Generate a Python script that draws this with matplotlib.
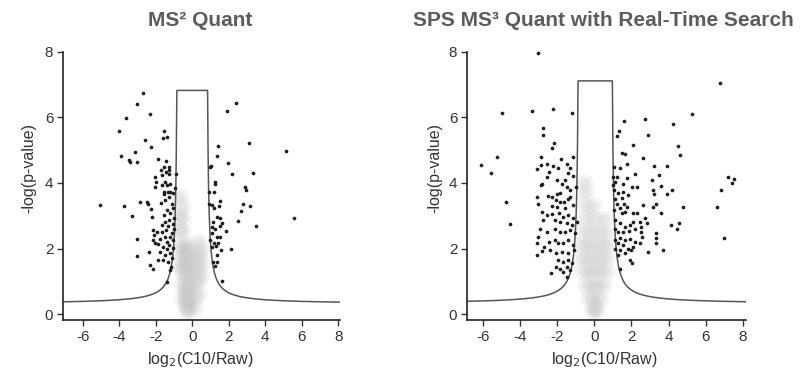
import numpy as np
import matplotlib
matplotlib.use("Agg")
import matplotlib.pyplot as plt

plt.rcParams['font.family'] = ['Liberation Sans', 'DejaVu Sans']

# ---- data (log2 ratio, -log p) ----
ms2_x = [-2.68, -3.04, -2.32, -3.63, -4.0, -1.55, -1.62, -1.40, -2.59, -2.26,
         -3.92, -3.14, -3.45, -3.41, -3.04, -1.89, -1.44, -1.55, -1.28, -1.73,
         -1.44, -1.29, -2.04, -1.68, -1.26, -0.89, -1.99, -1.5, -1.22, -1.37,
         -1.68, -2.04, -0.95, -1.22, -1.55,
         -5.05, -3.72, -2.86, -2.46, -2.41, -3.32, -2.28, -2.22, -1.73, -1.5,
         -1.26, -1.04, -1.31, -1.55, -1.13, -1.04, -1.40, -1.22, -1.55, -1.0,
         -1.26, -1.5, -1.07, -1.68, -1.31, -1.0, -1.44, -1.68, -1.13, -1.22,
         -1.5, -1.77, -1.04, -1.4, -1.86, -2.04, -1.26, -1.07, -1.62, -1.4,
         -1.77, -1.22, -1.5, -1.13, -1.59, -1.86, -1.31, -1.18, -1.22,
         -3.01, -3.01, -2.35, -2.32, -2.17, -2.1, -2.14, -1.4, -2.14, -1.95,
         2.39, 1.92, 3.12, 5.15, 1.44, 1.37, 1.96, 1.02, 0.97, 2.17,
         3.34, 1.24, 1.24, 2.9, 2.94, 0.93, 1.19, 1.52, 0.93, 1.06,
         1.19, 1.48, 2.79, 3.16, 2.67, 1.37, 1.52, 1.15, 1.61, 2.5,
         5.59, 3.49, 1.06, 1.24, 1.52, 1.88, 1.06, 1.34, 1.55, 1.0,
         1.19, 1.42, 1.06, 1.3, 1.57, 2.14, 1.34, 1.15, 1.34, 1.24, 1.64]
ms2_y = [6.75, 6.42, 6.09, 5.97, 5.58, 5.58, 5.36, 5.40, 5.30, 5.09,
         4.83, 4.93, 4.70, 4.63, 4.63, 4.73, 4.66, 4.49, 4.49, 4.39,
         4.34, 4.39, 4.19, 4.24, 4.28, 4.26, 4.03, 4.03, 3.98, 3.93,
         3.93, 3.88, 3.85, 3.73, 3.71,
         3.32, 3.30, 3.41, 3.42, 3.35, 3.0, 3.2, 2.97, 3.39, 3.48,
         3.58, 3.68, 3.73, 3.66, 3.37, 3.22, 3.17, 3.07, 3.02, 2.92,
         2.87, 2.81, 2.76, 2.71, 2.68, 2.61, 2.56, 2.51, 2.48, 2.36,
         2.36, 2.28, 2.26, 2.21, 2.13, 2.16, 2.10, 2.03, 2.05, 1.97,
         1.90, 1.85, 1.80, 1.70, 1.65, 1.65, 1.60, 1.44, 1.34,
         2.29, 1.77, 1.88, 1.49, 1.37, 2.41, 2.26, 0.98, 2.56, 2.51,
         6.44, 6.2, 5.23, 4.98, 5.12, 4.83, 4.61, 4.53, 4.49, 4.26,
         4.31, 4.02, 3.98, 3.88, 3.78, 3.73, 3.73, 3.45, 3.37, 3.32,
         3.25, 3.3, 3.37, 3.31, 3.13, 2.95, 2.92, 2.81, 2.78, 2.84,
         2.94, 2.69, 2.66, 2.58, 2.68, 2.54, 2.46, 2.36, 2.36, 2.26,
         2.17, 2.16, 2.05, 2.09, 1.95, 1.99, 1.8, 1.6, 1.6, 1.46, 1.02]

ms2_bg_x = [-0.35, -0.35, -0.35, -0.35, -0.35, -0.35, -0.35, -0.35, -0.35, -0.35, -0.35, -0.35,
            -0.55, -0.55, -0.55, -0.55, -0.55, -0.55, -0.55, -0.55,
            -0.15, -0.15, -0.15, -0.15, -0.15, -0.15,
            0.1, 0.1, 0.1, 0.1, 0.1,
            0.3, 0.3, 0.3, 0.3, 0.3,
            -0.7, -0.7, -0.7, -0.7, -0.7,
            0.5, 0.5, 0.5]
ms2_bg_y = [0.1, 0.25, 0.4, 0.55, 0.7, 0.9, 1.1, 1.3, 1.5, 1.7, 1.9, 2.1,
            0.5, 0.9, 1.3, 1.7, 2.1, 2.5, 2.9, 3.3,
            0.15, 0.4, 0.8, 1.2, 1.6, 2.0,
            0.2, 0.5, 0.9, 1.3, 1.7,
            0.6, 1.0, 1.4, 1.8, 2.2,
            1.5, 2.0, 2.6, 3.0, 3.6,
            1.2, 1.6, 2.0]

ms3_x = [-3.03, -4.97, -3.35, -2.22, -1.23, -2.79, -2.76, -2.18, -2.27, -5.24,
         -6.14, -5.58, -4.77, -4.56,
         -2.88, -2.9, -2.58, -2.22, -1.95, -1.82, -1.5, -1.32, -1.41, -1.14, -1.17,
         -3.12, -2.44, -2.54, -2.85, -2.9, -2.04, -1.59, -1.5, -1.77, -1.32, -0.99,
         -3.12, -3.03, -2.49, -2.31, -2.04, -1.86, -2.07, -1.86, -1.63, -1.41,
         -1.32, -1.14, -1.59, -2.0, -2.31,
         -2.85, -2.58, -2.31, -1.9, -1.68, -1.41, -1.14, -0.96, -1.23, -1.5,
         -1.86, -2.13, -2.76, -2.94, -2.54, -2.13, -1.86, -1.59, -1.32, -1.05,
         -3.03, -3.12, -2.72, -2.44, -2.13, -1.95, -1.68, -1.41, -1.17, -1.1,
         -1.41, -1.77, -2.07, -2.4, -2.85, -3.12,
         -1.95, -1.68, -1.41, -1.23, -1.5, -1.86, -2.07, -1.68, -1.32, -2.36, -1.5,
         6.78, 5.25, 1.6, 2.73, 4.23, 1.34, 1.2, 2.91, 2.1, 4.53,
         4.62, 1.47, 1.65, 2.64, 1.06, 1.38, 1.74, 3.23, 3.9, 1.02,
         1.24, 1.11, 0.99, 2.19, 1.74, 1.53, 2.01, 2.32, 3.09, 3.5,
         3.58, 3.18, 3.22, 3.9, 4.21, 7.23, 7.54, 7.41, 6.84, 6.64,
         7.01, 4.77,
         1.06, 1.29, 1.56, 1.83, 1.47, 1.11, 1.24, 1.6, 1.74, 1.38,
         1.06, 1.47, 1.65, 2.07, 2.28, 2.64, 3.18, 3.33, 3.58,
         1.11, 1.38, 1.65, 1.92, 2.1, 2.46, 2.73, 2.82, 2.5, 2.19,
         1.88, 1.56, 1.29, 1.11, 4.12, 4.44, 4.58, 3.33, 3.33, 3.33,
         3.72, 2.91,
         2.5, 2.55, 2.46, 2.1, 1.83, 1.56, 1.29, 1.11, 1.38, 1.65,
         1.92, 2.19, 1.96, 1.65, 1.38, 1.11, 1.29, 1.92, 2.01, 1.38]
ms3_y = [7.95, 6.14, 6.2, 6.24, 6.14, 5.66, 5.46, 5.22, 5.05, 4.78,
         4.54, 4.29, 3.42, 2.74,
         4.78, 4.54, 4.57, 4.51, 4.44, 4.72, 4.57, 4.44, 4.29, 4.78, 4.21,
         4.41, 4.34, 4.19, 3.98, 3.93, 4.09, 4.09, 3.88, 3.96, 3.78, 3.88,
         3.58, 3.37, 3.6, 3.58, 3.66, 3.68, 3.48, 3.42, 3.42, 3.5,
         3.58, 3.32, 3.22, 3.27, 3.29,
         3.12, 3.02, 3.05, 3.07, 2.97, 3.02, 2.92, 2.81, 2.71, 2.77,
         2.81, 2.87, 2.87, 2.61, 2.51, 2.61, 2.51, 2.51, 2.56, 2.46,
         2.36, 2.16, 2.05, 2.2, 2.26, 2.16, 2.17, 2.26, 2.1, 1.95,
         1.85, 1.9, 1.85, 1.95, 1.93, 1.8,
         1.65, 1.6, 1.65, 1.55, 1.44, 1.39, 1.44, 1.29, 1.34, 1.24, 1.14,
         7.06, 6.1, 5.89, 5.94, 5.81, 5.59, 5.44, 5.46, 5.15, 5.12,
         4.85, 4.9, 4.88, 4.75, 4.49, 4.44, 4.57, 4.51, 4.51, 4.19,
         4.17, 4.03, 3.93, 4.27, 4.14, 3.98, 3.88, 3.88, 4.1, 4.24,
         3.9, 3.78, 3.66, 3.66, 3.78, 4.17, 4.11, 4.0, 3.78, 3.27,
         2.31, 3.27,
         3.78, 3.68, 3.73, 3.63, 3.53, 3.5, 3.37, 3.37, 3.27, 3.22,
         3.17, 3.07, 3.12, 3.07, 3.07, 3.32, 3.27, 3.35, 3.07,
         2.87, 2.78, 2.66, 2.71, 2.81, 2.81, 2.92, 2.77, 2.66, 2.58,
         2.54, 2.51, 2.51, 2.61, 2.71, 2.59, 2.78, 2.48, 2.33, 2.16,
         1.95, 1.88,
         2.51, 2.36, 2.16, 2.05, 2.0, 2.1, 2.16, 2.26, 2.31, 2.26,
         2.28, 2.2, 1.95, 1.87, 1.95, 2.0, 1.8, 1.65, 1.56, 1.39]

ms3_bg_x = [0.0, -0.1, 0.1,
            -0.3, 0.0, 0.3,
            -0.45, -0.15, 0.15, 0.45,
            -0.6, -0.3, 0.0, 0.3, 0.6,
            -0.7, -0.35, 0.0, 0.35, 0.7,
            -0.7, -0.35, 0.0, 0.35, 0.7,
            -0.6, -0.2, 0.2, 0.6,
            -0.5, 0.0, 0.5,
            -0.5, -0.1, -0.5, -0.55]
ms3_bg_y = [0.05, 0.2, 0.2,
            0.5, 0.5, 0.5,
            0.9, 0.9, 0.9, 0.9,
            1.3, 1.3, 1.3, 1.3, 1.3,
            1.7, 1.7, 1.7, 1.7, 1.7,
            2.1, 2.1, 2.1, 2.1, 2.1,
            2.5, 2.5, 2.5, 2.5,
            2.9, 2.9, 2.9,
            3.3, 3.3, 3.7, 4.0]

# threshold curve parameters: y = base + c / (|x - mid| - s0), capped at top
ms2_curve = dict(mid=0.0, s0=0.78, c=0.418, base=0.308, top=6.82, lo=-7.05, hi=8.05)
ms3_curve = dict(mid=0.04, s0=0.86, c=0.46, base=0.314, top=7.11, lo=-6.85, hi=8.15)

titles = ['MS² Quant', 'SPS MS³ Quant with Real-Time Search']
xticks = [-6, -4, -2, 0, 2, 4, 6, 8]
yticks = [0, 2, 4, 6, 8]

fig = plt.figure(figsize=(8.12, 3.78), dpi=100)
ax1 = fig.add_axes([0.0776, 0.1534, 0.3411, 0.7098])
ax2 = fig.add_axes([0.5751, 0.1534, 0.3436, 0.7098])


def threshold(p):
    xs = np.linspace(p['lo'], p['hi'], 4000)
    d = np.abs(xs - p['mid']) - p['s0']
    ys = np.full_like(xs, p['top'])
    ok = d > 0
    ys[ok] = np.minimum(p['base'] + p['c'] / d[ok], p['top'])
    return xs, ys


def volcano(ax, x, y, bgx, bgy, curve, xlim, title, tx, ylab_x, xlab_x):
    # soft grey cloud of non-significant proteins
    ax.scatter(bgx, bgy, s=170, color='#c4c4c4', alpha=0.18, linewidths=0, zorder=1)
    ax.scatter(bgx, bgy, s=60, color='#c4c4c4', alpha=0.22, linewidths=0, zorder=1)
    cx, cy = threshold(curve)
    ax.plot(cx, cy, color='#555555', lw=1.1, zorder=2)
    ax.scatter(x, y, s=7, color='#1e1e1e', linewidths=0, zorder=3, clip_on=False)
    ax.set_xlim(*xlim)
    ax.set_ylim(-0.18, 8)
    ax.spines['top'].set_visible(False)
    ax.spines['right'].set_visible(False)
    for s in ['left', 'bottom']:
        ax.spines[s].set_linewidth(1.2)
        ax.spines[s].set_color('#222222')
    ax.set_xticks(xticks)
    ax.set_xticklabels([str(t) for t in xticks])
    ax.set_yticks(yticks)
    ax.set_yticklabels([str(t) for t in yticks])
    ax.tick_params(direction='out', length=4, width=1, labelsize=11, colors='#333333', pad=3)
    ax.set_ylabel('-log(p-value)', fontsize=11.5, color='#333333')
    ax.yaxis.set_label_coords(ylab_x, 0.565)
    ax.set_xlabel('log$_2$(C10/Raw)', fontsize=11.5, color='#333333')
    ax.xaxis.set_label_coords(xlab_x, -0.112)
    fig.text(tx, 0.947, title, ha='center', va='center', fontsize=15,
             fontweight='bold', color='#5c5c5c')


volcano(ax1, ms2_x, ms2_y, ms2_bg_x, ms2_bg_y, ms2_curve, (-7.08, 8.1),
        titles[0], 200 / 812, -0.096, 0.496)
volcano(ax2, ms3_x, ms3_y, ms3_bg_x, ms3_bg_y, ms3_curve, (-6.88, 8.18),
        titles[1], 603 / 812, -0.088, 0.492)

plt.savefig('out.png', dpi=100)
